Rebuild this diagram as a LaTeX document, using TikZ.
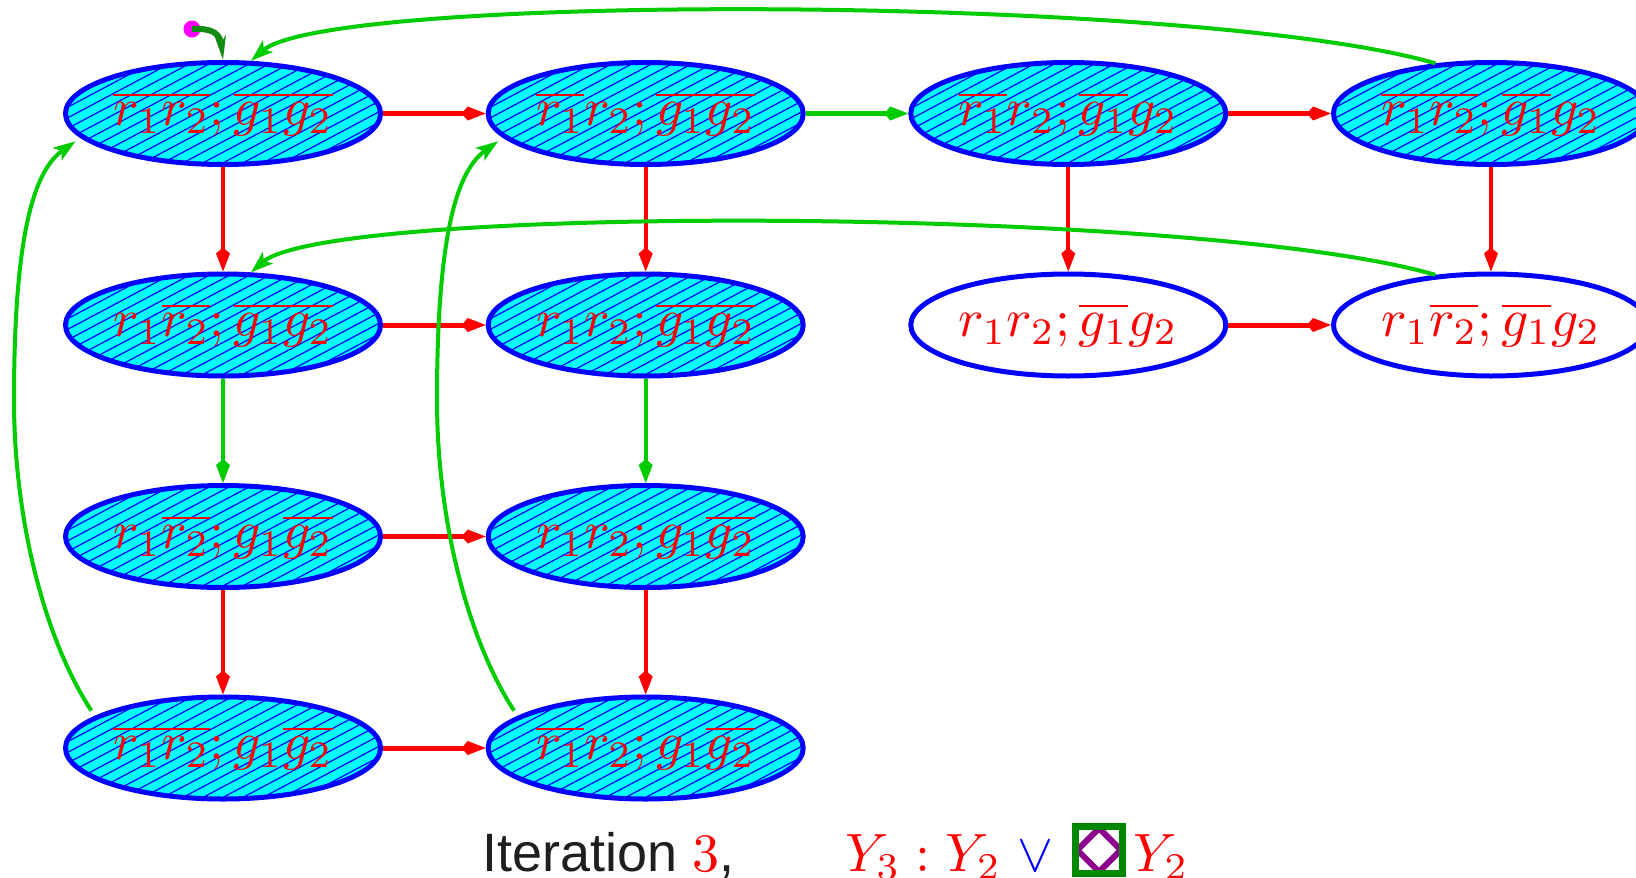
\documentclass[tikz,border=0pt]{standalone}
\usepackage{graphicx}
\usepackage[no-math]{fontspec}
\newfontfamily\helv{Liberation Sans}
\usetikzlibrary{shapes.geometric,arrows.meta,calc}
\definecolor{gr}{RGB}{0,204,0}
\definecolor{dgr}{RGB}{20,140,20}
\definecolor{bxgreen}{RGB}{0,135,0}
\definecolor{purp}{RGB}{140,0,140}
\definecolor{cyanfill}{RGB}{0,255,255}
\definecolor{dotmag}{RGB}{255,0,255}
\definecolor{pblue}{RGB}{0,0,255}
\definecolor{pred}{RGB}{255,0,0}
\newcommand{\stlab}[1]{\scalebox{5.35}{$#1$}}
\newcommand{\leglab}[1]{\scalebox{5.4}{$#1$}}
\newcommand{\hatchnode}[1]{%
  \begin{scope}
    \clip (#1.center) ellipse [x radius=157.5, y radius=51];
    \foreach \k in {-13,...,14}
      \draw[pblue, line width=1.2pt] ($(#1.center)+(\k*20-120,60)$) -- ++(225.7,-120);
  \end{scope}}
\begin{document}
\begin{tikzpicture}[x=1pt,y=-1pt,
  st/.style={ellipse, draw=pblue, line width=5pt, minimum width=315pt, minimum height=102pt, inner sep=0pt, text=pred},
  hat/.style={st, fill=cyanfill},
  wht/.style={st, fill=white},
  kt/.style={-{Kite[length=24pt,width=14pt,inset=6pt]}},
  hr/.style={kt, pred, line width=5pt},
  vr/.style={kt, pred, line width=4pt},
  hg/.style={kt, gr, line width=4.5pt},
  vg/.style={kt, gr, line width=4pt},
  backarr/.style={-{Stealth[length=22pt,width=15pt,inset=5pt]}, gr, line width=4pt},
  leg/.style={anchor=base west, inner sep=0pt},
  slab/.style={text=pred, inner sep=0pt},
]
\useasboundingbox (0,0) rectangle (1636,878);

% row 1
\node[hat] (A) at (223,113.5) {};
\node[hat] (B) at (645.7,113.5) {};
\node[hat] (C) at (1068.3,113.5) {};
\node[hat] (D) at (1491,113.5) {};
% row 2
\node[hat] (E) at (223,325) {};
\node[hat] (F) at (645.7,325) {};
\node[wht] (G) at (1068.3,325) {\stlab{r_1r_2;\overline{g_1}g_2}};
\node[wht] (H) at (1491,325) {\stlab{r_1\overline{r_2};\overline{g_1}g_2}};
% row 3
\node[hat] (I) at (223,536.5) {};
\node[hat] (J) at (645.7,536.5) {};
% row 4
\node[hat] (K) at (223,748) {};
\node[hat] (L) at (645.7,748) {};

\foreach \n in {A,B,C,D,E,F,I,J,K,L} {\hatchnode{\n}}

% labels of hatched states
\node[slab] (tA) at (A) {\stlab{\overline{r_1r_2};\overline{g_1g_2}}};
\node[slab] (tB) at (B) {\stlab{\overline{r_1}r_2;\overline{g_1g_2}}};
\node[slab] (tC) at (C) {\stlab{\overline{r_1}r_2;\overline{g_1}g_2}};
\node[slab] (tD) at (D) {\stlab{\overline{r_1r_2};\overline{g_1}g_2}};
\node[slab] (tE) at (E) {\stlab{r_1\overline{r_2};\overline{g_1g_2}}};
\node[slab] (tF) at (F) {\stlab{r_1r_2;\overline{g_1g_2}}};
\node[slab] (tI) at (I) {\stlab{r_1\overline{r_2};g_1\overline{g_2}}};
\node[slab] (tJ) at (J) {\stlab{r_1r_2;g_1\overline{g_2}}};
\node[slab] (tK) at (K) {\stlab{\overline{r_1r_2};g_1\overline{g_2}}};
\node[slab] (tL) at (L) {\stlab{\overline{r_1}r_2;g_1\overline{g_2}}};

% horizontal
\draw[hr] (A) -- (B);
\draw[hg] (B) -- (C);
\draw[hr] (C) -- (D);
\draw[hr] (E) -- (F);
\draw[hr] (G) -- (H);
\draw[hr] (I) -- (J);
\draw[hr] (K) -- (L);
% vertical
\draw[vr] (A) -- (E);
\draw[vr] (B) -- (F);
\draw[vr] (C) -- (G);
\draw[vr] (D) -- (H);
\draw[vg] (E) -- (I);
\draw[vg] (F) -- (J);
\draw[vr] (I) -- (K);
\draw[vr] (J) -- (L);

% back edges
\draw[backarr] (D.138) .. controls (1200,-5) and (330,-8) .. (A.62);
\draw[backarr] (H.138) .. controls (1200,206.5) and (330,203.5) .. (E.62);
\draw[backarr] ([yshift=7pt]K.167) .. controls (45,640) and (14,520) .. (14,400)
   .. controls (14,230) and (35,170) .. ([yshift=-7pt]A.188);
\draw[backarr] ([yshift=7pt]L.167) .. controls (468,640) and (437,520) .. (437,400)
   .. controls (437,230) and (458,170) .. ([yshift=-7pt]B.188);

% initial
\node[circle, fill=dotmag, inner sep=0pt, minimum size=17pt] (init) at (192,29) {};
\draw[dgr, line width=6pt, -{Stealth[length=24pt,width=11pt,inset=7pt]}] (init.center) .. controls (212,28) and (220,33) .. (A.north);

% legend
\node[leg, text=black!88] (iter) at (482,871) {\scalebox{5.4}{\helv Iteration \textcolor{pred}{$3$},}};
\node[leg, text=pred] (yl) at (845,871) {\leglab{Y_3 : Y_2}};
\node[anchor=base, inner sep=0pt, text=pblue] (vee) at (1035,871) {\leglab{\vee}};
\node[diamond, draw=purp, line width=6pt, minimum width=46pt, minimum height=46pt, inner sep=0pt] (dm) at (1099,850) {};
\node[draw=bxgreen, line width=7pt, minimum width=47pt, minimum height=47pt, inner sep=0pt] (bx) at (1099,850) {};
\node[leg, text=pred] (yr) at (1133,871) {\leglab{Y_2}};
\end{tikzpicture}
\end{document}
